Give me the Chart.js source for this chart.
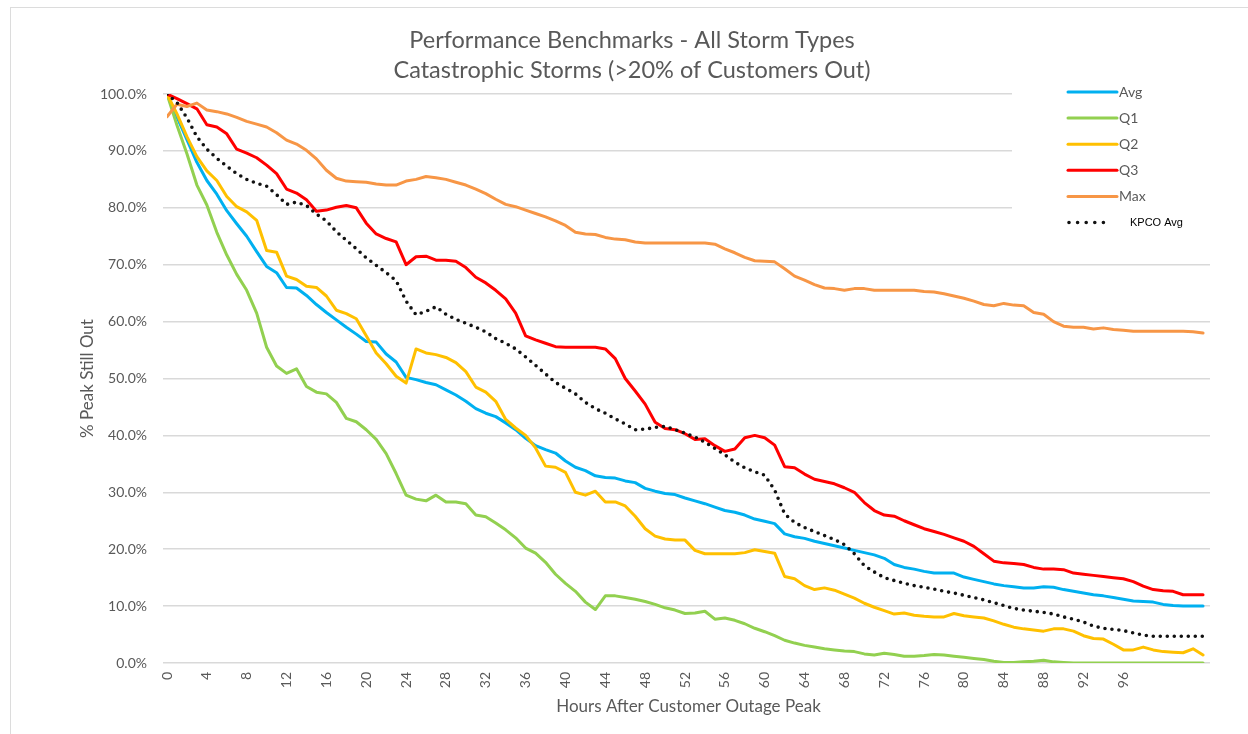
<!DOCTYPE html>
<html>
<head>
<meta charset="utf-8">
<title>Performance Benchmarks - All Storm Types</title>
<script src="https://cdn.jsdelivr.net/npm/chart.js@4/dist/chart.umd.min.js"></script>
<style>
  html, body { margin: 0; padding: 0; background: #ffffff; overflow: hidden; }
  #wrap { position: relative; width: 1264px; height: 734px; }
  #frame { position: absolute; left: 10px; top: 7px; width: 1300px; height: 800px;
           border: 1px solid #dcdcdc; box-sizing: border-box; }
  #c { position: absolute; left: 0; top: 0; }
</style>
</head>
<body>
<div id="wrap">
  <div id="frame"></div>
  <canvas id="c" width="1264" height="734"></canvas>
</div>
<script>
// Hours after the customer outage peak (one sample per hour)
const hours = Array.from({ length: 105 }, (_, i) => i);

// Share of peak outage still out (%), per benchmark series
const avg = [100, 96, 92, 88, 84.8, 82.4, 79.5, 77.2, 75, 72.3,
  69.7, 68.6, 66, 65.9, 64.6, 63, 61.6, 60.3, 59, 57.8,
  56.5, 56.4, 54.3, 52.9, 50.2, 49.8, 49.3, 48.9, 48, 47.1,
  46, 44.7, 43.9, 43.3, 42.2, 41, 39.5, 38.2, 37.5, 36.9,
  35.5, 34.4, 33.8, 32.9, 32.6, 32.5, 32, 31.7, 30.7, 30.2,
  29.8, 29.6, 29, 28.5, 28, 27.4, 26.8, 26.5, 26, 25.3,
  24.9, 24.5, 22.7, 22.2, 21.9, 21.4, 21, 20.6, 20.2, 19.8,
  19.4, 19, 18.4, 17.3, 16.8, 16.5, 16.1, 15.8, 15.8, 15.8,
  15.1, 14.7, 14.3, 13.9, 13.6, 13.4, 13.2, 13.2, 13.4, 13.3,
  12.9, 12.6, 12.3, 12, 11.8, 11.5, 11.2, 10.9, 10.8, 10.7,
  10.3, 10.1, 10, 10, 10];

const q1 = [100, 94.5, 89.5, 84, 80.5, 75.7, 71.7, 68.3, 65.5, 61.5,
  55.5, 52.2, 50.9, 51.7, 48.6, 47.6, 47.3, 45.8, 43, 42.4,
  41, 39.3, 36.8, 33.3, 29.5, 28.8, 28.5, 29.5, 28.3, 28.3,
  28, 26, 25.7, 24.6, 23.4, 22, 20.2, 19.3, 17.7, 15.6,
  14, 12.6, 10.7, 9.4, 11.8, 11.8, 11.5, 11.2, 10.8, 10.3,
  9.7, 9.3, 8.7, 8.8, 9.1, 7.7, 7.9, 7.5, 6.9, 6.1,
  5.5, 4.8, 4, 3.5, 3.1, 2.8, 2.5, 2.3, 2.1, 2,
  1.6, 1.4, 1.7, 1.5, 1.2, 1.2, 1.3, 1.5, 1.4, 1.2,
  1, 0.8, 0.6, 0.3, 0.1, 0.1, 0.2, 0.3, 0.5, 0.2,
  0.1, 0, 0, 0, 0, 0, 0, 0, 0, 0,
  0, 0, 0, 0, 0];

const q2 = [100, 96.5, 92.5, 89, 86.5, 84.8, 82, 80.2, 79.3, 77.8,
  72.5, 72.2, 68, 67.4, 66.2, 66, 64.5, 62, 61.4, 60.5,
  57.5, 54.5, 52.6, 50.4, 49.2, 55.2, 54.5, 54.2, 53.7, 52.8,
  51.2, 48.5, 47.6, 46, 42.8, 41.3, 40, 37.8, 34.6, 34.4,
  33.5, 30, 29.5, 30.2, 28.3, 28.3, 27.6, 25.8, 23.6, 22.3,
  21.8, 21.6, 21.6, 19.8, 19.2, 19.2, 19.2, 19.2, 19.4, 19.9,
  19.6, 19.3, 15.2, 14.8, 13.6, 12.9, 13.2, 12.8, 12.1, 11.4,
  10.5, 9.8, 9.2, 8.6, 8.8, 8.4, 8.2, 8.1, 8.1, 8.7,
  8.3, 8.1, 7.9, 7.4, 6.8, 6.3, 6, 5.8, 5.6, 6,
  6, 5.6, 4.8, 4.3, 4.2, 3.3, 2.3, 2.3, 2.8, 2.3,
  2, 1.9, 1.8, 2.5, 1.4];

const q3 = [100, 99.2, 98.3, 97.4, 94.6, 94.2, 93, 90.3, 89.6, 88.8,
  87.5, 86, 83.3, 82.6, 81.4, 79.4, 79.6, 80.1, 80.4, 80,
  77.3, 75.4, 74.6, 74, 70, 71.4, 71.5, 70.8, 70.8, 70.6,
  69.5, 67.8, 66.8, 65.5, 64, 61.5, 57.5, 56.8, 56.2, 55.6,
  55.5, 55.5, 55.5, 55.5, 55.2, 53.5, 50, 47.8, 45.5, 42.3,
  41.2, 41, 40.3, 39.3, 39.4, 38.2, 37.2, 37.6, 39.6, 40,
  39.6, 38.3, 34.5, 34.3, 33.2, 32.3, 31.9, 31.5, 30.8, 30,
  28.2, 26.8, 26, 25.8, 25, 24.3, 23.6, 23.1, 22.6, 22,
  21.4, 20.5, 19.2, 17.9, 17.6, 17.5, 17.3, 16.8, 16.5, 16.5,
  16.4, 15.8, 15.6, 15.4, 15.2, 15, 14.8, 14.3, 13.5, 12.9,
  12.7, 12.6, 12, 12, 12];

const maxSeries = [96, 98.2, 97.8, 98.4, 97.2, 96.9, 96.5, 95.9, 95.2, 94.7,
  94.2, 93.2, 91.9, 91.2, 90.1, 88.6, 86.6, 85.2, 84.7, 84.6,
  84.5, 84.2, 84, 84, 84.7, 85, 85.5, 85.3, 85, 84.5,
  84, 83.3, 82.5, 81.5, 80.6, 80.2, 79.6, 79, 78.4, 77.7,
  76.9, 75.7, 75.4, 75.3, 74.8, 74.5, 74.4, 74, 73.8, 73.8,
  73.8, 73.8, 73.8, 73.8, 73.8, 73.6, 72.8, 72.1, 71.3, 70.7,
  70.6, 70.5, 69.3, 68, 67.3, 66.5, 65.9, 65.8, 65.5, 65.8,
  65.8, 65.5, 65.5, 65.5, 65.5, 65.5, 65.3, 65.2, 64.9, 64.5,
  64.1, 63.6, 63, 62.8, 63.2, 62.9, 62.8, 61.6, 61.3, 60,
  59.2, 59, 59, 58.7, 58.9, 58.6, 58.5, 58.3, 58.3, 58.3,
  58.3, 58.3, 58.3, 58.2, 58];

const kpcoAvg = [100, 98.5, 95.8, 92.5, 90.3, 88.7, 87.3, 86, 85, 84.3,
  83.8, 82.3, 80.6, 81, 80.4, 78.9, 77.7, 75.8, 74.3, 72.8,
  71.2, 69.9, 68.6, 67.2, 63.6, 61.2, 61.8, 62.6, 61.3, 60.4,
  59.7, 59, 58.2, 57, 56.2, 55.2, 53.8, 52.3, 50.8, 49.3,
  48.3, 47.3, 45.8, 44.7, 43.9, 42.9, 42, 41, 41.1, 41.4,
  41.6, 41, 40.4, 39.7, 38.8, 37.7, 36.6, 35.3, 34.3, 33.6,
  33, 30.4, 26.2, 24.7, 23.8, 23.1, 22.4, 21.7, 20.8, 19.2,
  17.1, 16, 15, 14.5, 14, 13.6, 13.3, 13, 12.6, 12.3,
  11.9, 11.5, 11.1, 10.6, 10.1, 9.6, 9.3, 9.1, 8.9, 8.6,
  8.1, 7.7, 7.2, 6.5, 6.1, 5.9, 5.7, 5.3, 4.9, 4.7,
  4.7, 4.7, 4.7, 4.7, 4.7];

// Series names and colours, in legend order
const seriesNames = ['Avg', 'Q1', 'Q2', 'Q3', 'Max', 'KPCO Avg'];
const seriesColors = ['#00B0F0', '#92D050', '#FFC000', '#FF0000', '#F79646', '#111111'];
const seriesValues = [avg, q1, q2, q3, maxSeries, kpcoAvg];

// Axis and title text
const titleLines = ['Performance Benchmarks - All Storm Types', 'Catastrophic Storms (>20% of Customers Out)'];
const xTitle = 'Hours After Customer Outage Peak';
const yTitle = '% Peak Still Out';
const xLabelStep = 4;
const xLabelLast = 96;

const GRAY = '#595959';
const FONT = 'Lato, "Open Sans", sans-serif';

const datasets = seriesValues.map((vals, i) => {
  const dotted = seriesNames[i] === 'KPCO Avg';
  return {
    label: seriesNames[i],
    data: vals.map((v, j) => ({ x: hours[j], y: v })),
    borderColor: seriesColors[i],
    backgroundColor: seriesColors[i],
    borderWidth: dotted ? 3.6 : 3,
    borderDash: dotted ? [0, 7] : [],
    borderCapStyle: 'round',
    borderJoinStyle: 'round',
    pointRadius: 0,
    tension: 0,
    fill: false,
    // later series sit on top of earlier ones
    order: seriesNames.length - 1 - i
  };
});

// Legend drawn inside the plot, on a white panel in the upper right
const insideLegend = {
  id: 'insideLegend',
  beforeDatasetsDraw(chart) {
    const ctx = chart.ctx;
    const x0 = 1068, x1 = 1117, top = 92, step = 26.1;
    ctx.save();
    ctx.fillStyle = '#ffffff';
    ctx.fillRect(1012, 80, chart.chartArea.right - 1012 + 2, 168);
    chart.data.datasets.forEach((ds, i) => {
      const y = top + i * step;
      const dotted = ds.label === 'KPCO Avg';
      ctx.beginPath();
      ctx.strokeStyle = ds.borderColor;
      ctx.lineWidth = dotted ? 3.6 : 3;
      ctx.lineCap = 'round';
      ctx.setLineDash(dotted ? [0, 8.6] : []);
      ctx.moveTo(x0 + (dotted ? 1 : 0), y);
      ctx.lineTo(dotted ? x0 + 44 : x1, y);
      ctx.stroke();
      ctx.setLineDash([]);
      ctx.textBaseline = 'middle';
      ctx.textAlign = 'left';
      if (dotted) {
        ctx.fillStyle = '#000000';
        ctx.font = '11px "Liberation Sans", Arial, sans-serif';
        ctx.fillText(ds.label, 1130, y);
      } else {
        ctx.fillStyle = GRAY;
        ctx.font = '14px ' + FONT;
        ctx.fillText(ds.label, x1 + 2, y);
      }
    });
    ctx.restore();
  }
};

new Chart(document.getElementById('c'), {
  type: 'line',
  data: { datasets },
  plugins: [insideLegend],
  options: {
    responsive: false,
    animation: false,
    events: [],
    layout: { padding: { left: 54, right: 54, top: 0, bottom: 0 } },
    plugins: {
      legend: { display: false },
      tooltip: { enabled: false },
      title: {
        display: true,
        text: titleLines,
        color: GRAY,
        font: { family: FONT, size: 23.5, weight: 'normal', lineHeight: 1.277 },
        padding: { top: 25, bottom: 9 }
      }
    },
    scales: {
      x: {
        type: 'linear',
        min: 0,
        max: 104.7,
        grid: { display: false, drawTicks: false },
        border: { display: false },
        ticks: {
          stepSize: xLabelStep,
          includeBounds: false,
          autoSkip: false,
          minRotation: 90,
          maxRotation: 90,
          padding: 9,
          color: GRAY,
          font: { family: FONT, size: 14 },
          callback: v => (v <= xLabelLast && v % xLabelStep === 0) ? String(v) : ''
        },
        title: {
          display: true,
          text: xTitle,
          color: GRAY,
          font: { family: FONT, size: 17 },
          padding: { top: 0, bottom: 16.8 }
        },
        afterFit: s => { s.height = 71; }
      },
      y: {
        min: 0,
        max: 100,
        grid: { color: '#d9d9d9', lineWidth: 1.5, drawTicks: true, tickLength: 4 },
        border: { display: false },
        ticks: {
          stepSize: 10,
          padding: 16,
          color: GRAY,
          font: { family: FONT, size: 14 },
          callback: v => v.toFixed(1) + '%'
        },
        title: {
          display: true,
          text: yTitle,
          color: GRAY,
          font: { family: FONT, size: 17 },
          padding: { top: 23.8, bottom: 0 }
        },
        afterFit: s => { s.width = 113; }
      }
    }
  }
});
</script>
</body>
</html>
